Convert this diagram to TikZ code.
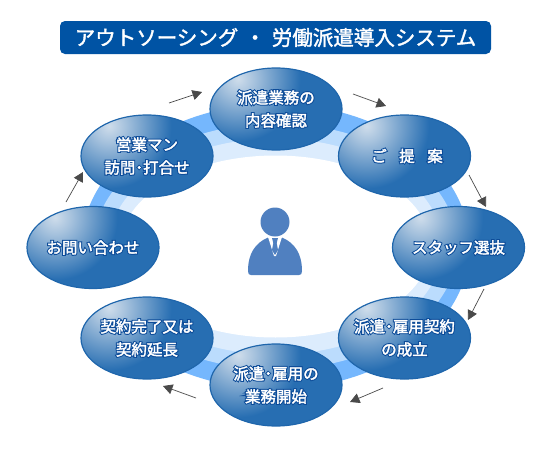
\documentclass[tikz,border=0pt]{standalone}
\usepackage{fontspec}
\setmainfont{Noto Sans CJK JP}[BoldFont={Noto Sans CJK JP Bold}]
\usetikzlibrary{arrows.meta,shadings,calc,shapes.geometric}
\definecolor{ringA}{HTML}{75B7FD}
\definecolor{ringB}{HTML}{BBDCFD}
\definecolor{ringC}{HTML}{DCECFD}
\definecolor{ovalEdge}{HTML}{1F66AC}
\definecolor{ovalFill}{HTML}{276EB2}
\definecolor{ovalLight}{HTML}{CFDDEB}
\definecolor{titleBlue}{HTML}{0053A4}
\definecolor{person}{HTML}{5080C0}
\definecolor{arrowGrey}{HTML}{4A4A4A}
\pgfdeclareradialshading{ovalshade}{\pgfpoint{0bp}{0bp}}{
  color(0bp)=(ovalLight);
  color(3.5bp)=(ovalLight!75!ovalFill);
  color(13bp)=(ovalFill);
  color(100bp)=(ovalFill)}
\tikzset{
  x=1pt,y=-1pt,
  stagebox/.style={ellipse,minimum width=132pt,minimum height=82pt,inner sep=0pt,draw=ovalEdge,line width=1.2pt,
    path picture={\shade[shading=ovalshade] ($(path picture bounding box.center)+(-38,-30)$) ++(-120,-120) rectangle ++(240,240);}},
  stagetext/.style={text=white,font=\fontsize{15.5}{23}\selectfont,align=center,inner sep=0pt},
  flow/.style={draw=arrowGrey,line width=0.7pt,-{Triangle[length=9.5pt,width=10pt]}},
}
\newcommand{\hl}[1]{\leavevmode\rlap{\special{pdf:code 2 Tr 2.4 w 0.05 0.3 0.6 RG}#1\special{pdf:code 0 Tr}}\special{pdf:code 2 Tr 0.35 w 1 1 1 RG}#1\special{pdf:code 0 Tr}}
\newcommand{\thick}[1]{\leavevmode\special{pdf:code 2 Tr 0.35 w 1 1 1 RG}#1\special{pdf:code 0 Tr}}
\newcommand{\stage}[3]{%
  \node[stagebox] (#1) at (#2) {};
  \node[stagetext] (#1t) at (#2) {#3};
}
\begin{document}
\begin{tikzpicture}
\useasboundingbox (0,0) rectangle (550,450);
\fill[white] (0,0) rectangle (550,450);
% ring
\fill[ringA] (275.5,246.5) ellipse (194 and 142.5);
\fill[ringB] (275.5,246.5) ellipse (182 and 123);
\fill[ringC] (275.5,246.5) ellipse (167 and 108);
\fill[white] (275.5,246.5) ellipse (155 and 91);
\fill[white] (0,250) rectangle (170,420);
% title
\node[fill=titleBlue,rounded corners=5pt,minimum width=431pt,minimum height=33pt,inner sep=0pt,text=white,font=\fontsize{20.5}{24}\selectfont] (title) at (275.5,37.5) {\thick{アウトソーシング\hspace{6.5pt}・\hspace{6.5pt}労働派遣導入システム}};
% stages
\stage{a}{276,109}{\hl{派遣業務の}\\\hl{内容確認}}
\stage{b}{404.5,156}{\hspace*{5pt}\hl{ご\hspace{12.5pt}提\hspace{12.5pt}案}}
\stage{c}{458.5,247.5}{\hl{スタッフ選抜}}
\stage{d}{404.5,338}{\hl{派遣･雇用契約}\\\hl{の成立}}
\stage{e}{276,385}{\hl{派遣･雇用の}\\\hl{業務開始}}
\stage{f}{147,338}{\hl{契約完了又は}\\\hl{契約延長}}
\stage{g}{93,247.5}{\hl{お問い合わせ}}
\stage{h}{147,156}{\hl{営業マン}\\\hl{訪問･打合せ}}
% arrows
\coordinate (g1) at (66,202); \coordinate (g2) at (83,172);
\coordinate (h1) at (169,103); \coordinate (h2) at (202,92);
\coordinate (a1) at (353,94); \coordinate (a2) at (386,106);
\coordinate (b1) at (469,175); \coordinate (b2) at (486,207);
\coordinate (c1) at (484,289); \coordinate (c2) at (468,320);
\coordinate (d1) at (383,388); \coordinate (d2) at (350,402);
\coordinate (e1) at (196,398); \coordinate (e2) at (163,386);
\draw[flow] (g1) -- (g2);
\draw[flow] (h1) -- (h2);
\draw[flow] (a1) -- (a2);
\draw[flow] (b1) -- (b2);
\draw[flow] (c1) -- (c2);
\draw[flow] (d1) -- (d2);
\draw[flow] (e1) -- (e2);
% person
\fill[person] (275,222) circle (14.5);
\fill[person] (251,275) .. controls (249,275) and (248,274) .. (248,271) .. controls (248,254) and (255,243) .. (268,237.5) -- (282,237.5) .. controls (295,243) and (302,254) .. (302,271) .. controls (302,274) and (301,275) .. (299,275) -- cycle;
\fill[white] (268,237) -- (282,237) -- (276,256) -- (274,256) -- cycle;
\fill[person] (272,238) -- (278,238) -- (276.7,243) -- (278,250) -- (275,255) -- (272,250) -- (273.3,243) -- cycle;
\end{tikzpicture}
\end{document}
